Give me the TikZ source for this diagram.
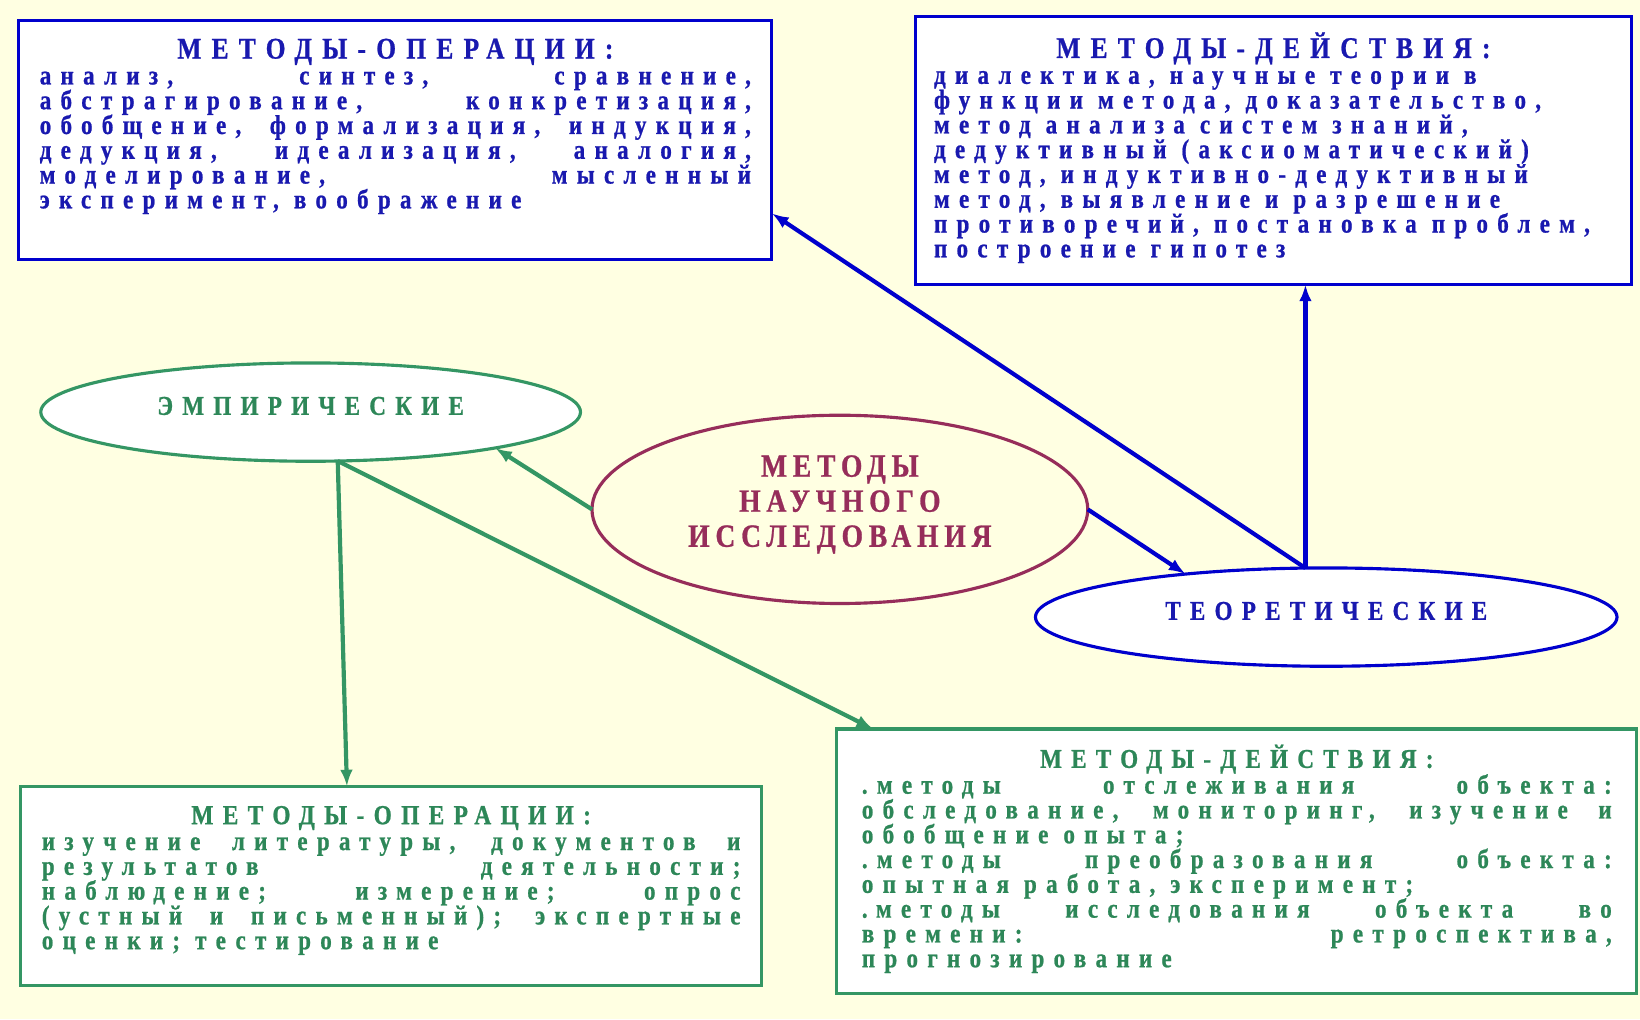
\documentclass[tikz,border=0pt]{standalone}
\usepackage{fontspec}
\setmainfont{Liberation Serif}
\newfontfamily\wide{Liberation Serif}[FakeStretch=0.85,LetterSpace=34,FakeBold=0.8]
\usetikzlibrary{arrows.meta,shapes.geometric}

\definecolor{paper}{RGB}{255,255,226}
\definecolor{navy}{RGB}{0,0,205}
\definecolor{navytext}{RGB}{25,25,175}
\definecolor{leaf}{RGB}{52,150,100}
\definecolor{leaftext}{RGB}{45,135,88}
\definecolor{plum}{RGB}{150,45,90}

\newcommand{\hd}{\wide\bfseries\fontsize{26}{23.7}\selectfont\lineskiplimit=-50pt}
\newcommand{\ttl}[2][28.7]{\makebox[\linewidth]{\rule{0pt}{21pt}\fontsize{#1}{28}\selectfont #2}\\[1pt]}
\newcommand{\jl}[1]{\makebox[\linewidth][s]{#1}\\}

\begin{document}
\begin{tikzpicture}[x=1pt,y=-1pt,
	panel/.style={draw,fill=white,line width=3pt,outer sep=0pt,inner xsep=20pt,inner ysep=15pt,anchor=north west},
	oval/.style={draw,ellipse,line width=3pt,outer sep=0pt,inner sep=0pt,fill=white,font=\hd},
	wire/.style={line width=4pt,-{Latex[length=16pt,width=12pt]}}]
	\fill[paper] (0,0) rectangle (1568,974.3);
	\useasboundingbox (0,0) rectangle (1568,974.3);
	% upper boxes
	\node[panel,draw=navy,text=navytext] (opsT) at (18,20) {\parbox[t][198pt][t]{680pt}{\hd
		\ttl{МЕТОДЫ-ОПЕРАЦИИ:}
		\jl{анализ, синтез, сравнение,}
		\jl{абстрагирование, конкретизация,}
		\jl{обобщение, формализация, индукция,}
		\jl{дедукция, идеализация, аналогия,}
		\jl{моделирование, мысленный}
		эксперимент, воображение}};
	\node[panel,draw=navy,text=navytext,inner xsep=18pt] (actT) at (875,16) {\parbox[t][226pt][t]{649pt}{\hd
		\ttl{МЕТОДЫ-ДЕЙСТВИЯ:}
		диалектика, научные теории в\\
		функции метода, доказательство,\\
		метод анализа систем знаний,\\
		дедуктивный (аксиоматический)\\
		метод, индуктивно-дедуктивный\\
		метод, выявление и разрешение\\
		противоречий, постановка проблем,\\
		построение гипотез}};
	% ellipses
	\node[oval,draw=leaf,text=leaftext,minimum width=516pt,minimum height=94pt,text depth=12pt] (emp) at (297,394) {ЭМПИРИЧЕСКИЕ};
	\node[oval,draw=plum,text=plum,fill=paper,minimum width=474pt,minimum height=180pt,align=center,text depth=16pt,font=\hd\fontsize{31}{33.5}\selectfont\addfontfeature{LetterSpace=18}] (core) at (803,487) {МЕТОДЫ\\НАУЧНОГО\\ИССЛЕДОВАНИЯ};
	\node[oval,draw=navy,text=navytext,minimum width=556pt,minimum height=94pt,text depth=12pt] (theo) at (1268,590) {ТЕОРЕТИЧЕСКИЕ};
	% lower boxes
	\node[panel,draw=leaf,text=leaftext] (opsE) at (20,752) {\parbox[t][160pt][t]{668pt}{\hd
		\ttl[26.3]{МЕТОДЫ-ОПЕРАЦИИ:}
		\jl{изучение литературы, документов и}
		\jl{результатов деятельности;}
		\jl{наблюдение; измерение; опрос}
		\jl{(устный и письменный); экспертные}
		оценки; тестирование}};
	\node[panel,draw=leaf,text=leaftext,inner xsep=24pt] (actE) at (800,697) {\parbox[t][223pt][t]{717pt}{\hd
		\ttl[26]{МЕТОДЫ-ДЕЙСТВИЯ:}
		\jl{.методы отслеживания объекта:}
		\jl{обследование, мониторинг, изучение и}
		обобщение опыта;\\
		\jl{.методы преобразования объекта:}
		опытная работа, эксперимент;\\
		\jl{.\kern8pt методы исследования объекта во}
		\jl{времени: ретроспектива,}
		прогнозирование}};
	% arrows
	\draw[wire,leaf] (core.west) -- (emp.-11);
	\draw[wire,navy] (core.east) -- (theo.163.5);
	\draw[wire,navy] (theo.113) -- (theo.113 |- actT.south);
	\draw[wire,navy] (theo.113) -- (opsT.-11.5);
	\draw[wire,leaf] (emp.-61) -- (opsE.114.8);
	\draw[wire,leaf] (emp.-61) -- (actE.160);
\end{tikzpicture}
\end{document}
